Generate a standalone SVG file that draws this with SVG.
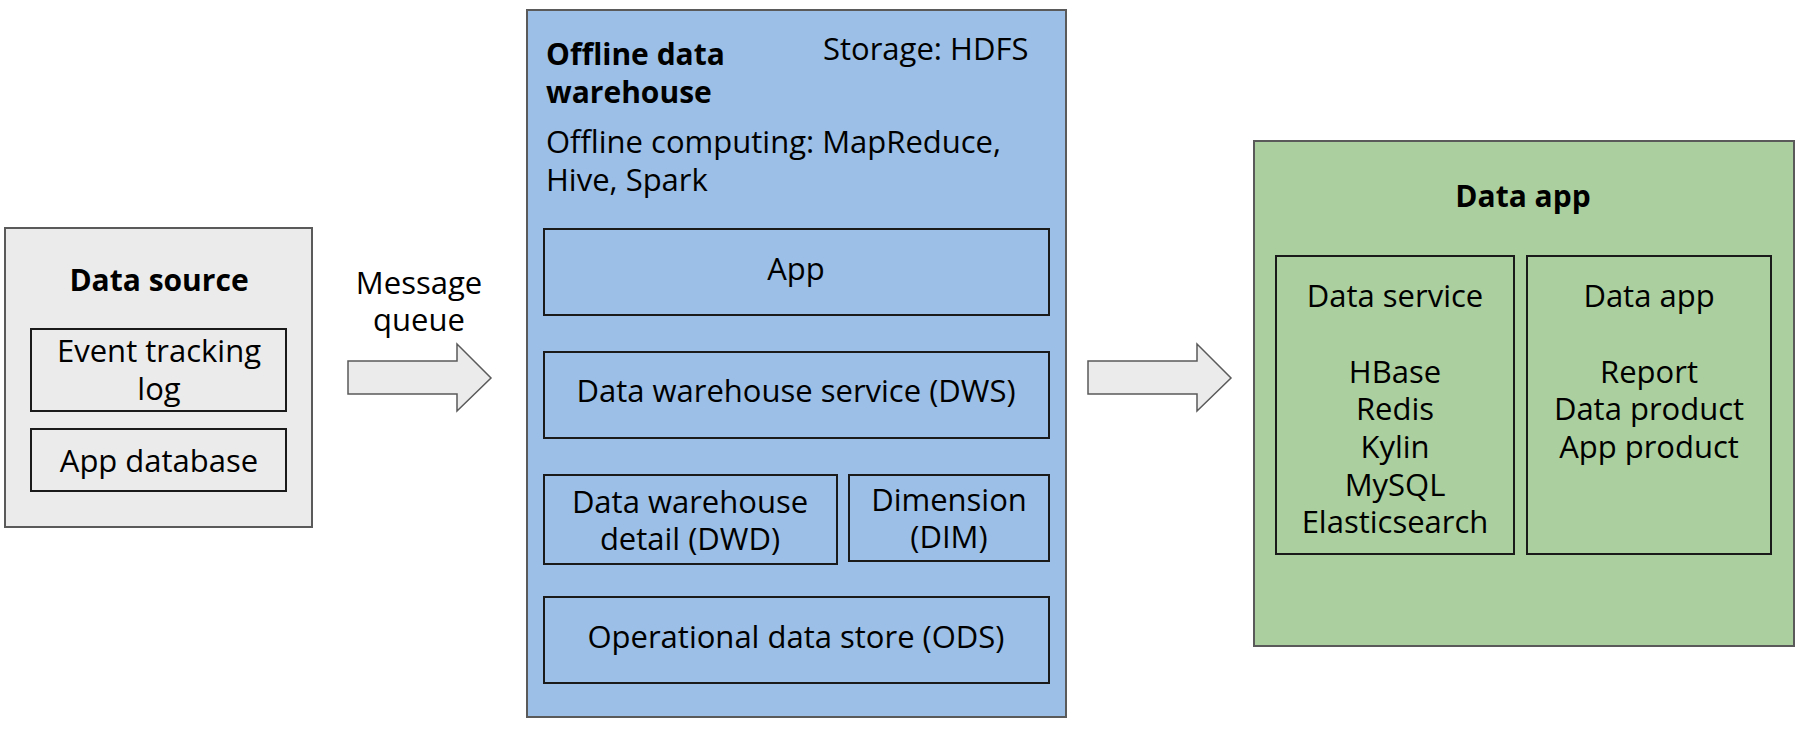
<svg xmlns="http://www.w3.org/2000/svg" width="1802" height="730" viewBox="0 0 1802 730">
<style>
text{font-family:"Open Sans","Noto Sans","DejaVu Sans",sans-serif;font-size:31px;fill:#000}
.b{font-weight:bold;font-size:30px}
.c{text-anchor:middle}
.outer{stroke:#5a5a5a;stroke-width:2}
.inner{fill:none;stroke:#1a1a1a;stroke-width:2}
.arrow{fill:#ebebeb;stroke:#5a5a5a;stroke-width:1.5}
</style>
<rect width="1802" height="730" fill="#fff"/>
<g id="data-source">
<rect class="outer" x="5" y="228" width="307" height="299" fill="#ebebeb"/>
<text class="b c" x="159" y="291">Data source</text>
<g id="event-tracking-log">
<rect class="inner" x="31" y="329" width="255" height="82"/>
<text class="c" x="159" y="362">Event tracking</text>
<text class="c" x="159" y="400">log</text>
</g>
<g id="app-database">
<rect class="inner" x="31" y="429" width="255" height="62"/>
<text class="c" x="159" y="472">App database</text>
</g>
</g>
<g id="offline-dw">
<rect class="outer" x="527" y="10" width="539" height="707" fill="#9bbfe6"/>
<text class="b" x="546" y="65">Offline data</text>
<text class="b" x="546" y="103">warehouse</text>
<text x="823" y="60">Storage: HDFS</text>
<text x="546" y="153">Offline computing: MapReduce,</text>
<text x="546" y="191">Hive, Spark</text>
<g id="app">
<rect class="inner" x="544" y="229" width="505" height="86"/>
<text class="c" x="796" y="280">App</text>
</g>
<g id="dws">
<rect class="inner" x="544" y="352" width="505" height="86"/>
<text class="c" x="796" y="402">Data warehouse service (DWS)</text>
</g>
<g id="dwd">
<rect class="inner" x="544" y="475" width="293" height="89"/>
<text class="c" x="690" y="513">Data warehouse</text>
<text class="c" x="690" y="550">detail (DWD)</text>
</g>
<g id="dim">
<rect class="inner" x="849" y="475" width="200" height="86"/>
<text class="c" x="949" y="511">Dimension</text>
<text class="c" x="949" y="548">(DIM)</text>
</g>
<g id="ods">
<rect class="inner" x="544" y="597" width="505" height="86"/>
<text class="c" x="796" y="648">Operational data store (ODS)</text>
</g>
</g>
<g id="data-app">
<rect class="outer" x="1254" y="141" width="540" height="505" fill="#abcf9e"/>
<text class="b c" x="1523" y="207">Data app</text>
<g id="data-service">
<rect class="inner" x="1276" y="256" width="238" height="298"/>
<text class="c" x="1395" y="307">Data service</text>
<text class="c" x="1395" y="383">HBase</text>
<text class="c" x="1395" y="420">Redis</text>
<text class="c" x="1395" y="458">Kylin</text>
<text class="c" x="1395" y="496">MySQL</text>
<text class="c" x="1395" y="533">Elasticsearch</text>
</g>
<g id="data-app-inner">
<rect class="inner" x="1527" y="256" width="244" height="298"/>
<text class="c" x="1649" y="307">Data app</text>
<text class="c" x="1649" y="383">Report</text>
<text class="c" x="1649" y="420">Data product</text>
<text class="c" x="1649" y="458">App product</text>
</g>
</g>
<g id="connectors">
<g id="mq-arrow">
<path class="arrow" d="M348,361 H457 V344 L491,378 L457,411 V394 H348 Z"/>
<text class="c" x="419" y="294">Message</text>
<text class="c" x="419" y="331">queue</text>
</g>
<path class="arrow" d="M1088,361 H1197 V344 L1231,378 L1197,411 V394 H1088 Z"/>
</g>
</svg>
